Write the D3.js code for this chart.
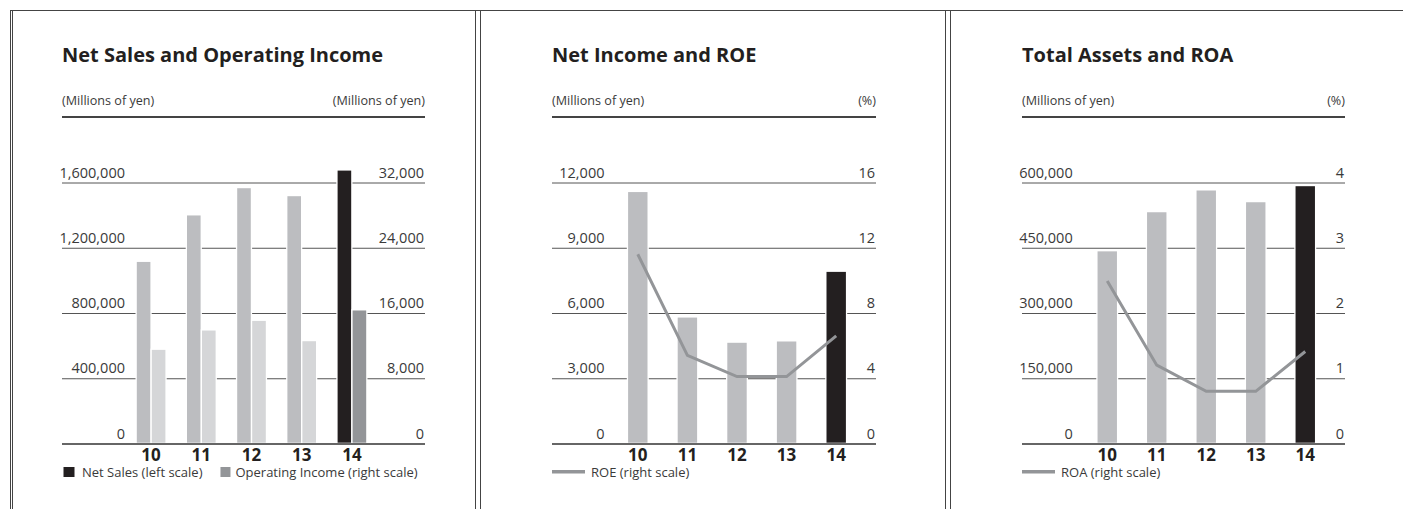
<!DOCTYPE html>
<html>
<head>
<meta charset="utf-8">
<script src="https://cdn.jsdelivr.net/npm/d3@7"></script>
<style>
  body { margin: 0; background: #fff; }
  svg { display: block; font-family: "Open Sans", "Noto Sans", sans-serif; }
</style>
</head>
<body>
<svg id="chart" width="1403" height="509"></svg>
<script>
// fiscal years
const years = ["10", "11", "12", "13", "14"];

// Net sales (left) and operating income (right), millions of yen
const netSales = [1113000, 1398000, 1565000, 1516000, 1673000];
const operatingIncome = [11480, 13850, 15030, 12540, 16310];

// Net income (left, millions of yen) and ROE (right, %)
const netIncome = [11560, 5790, 4630, 4690, 7890];
const roe = [11.6, 5.4, 4.1, 4.1, 6.6];

// Total assets (left, millions of yen) and ROA (right, %)
const totalAssets = [441700, 531600, 581600, 554600, 591500];
const roa = [2.49, 1.2, 0.8, 0.8, 1.41];

// tick values
const salesTicks = [0, 400000, 800000, 1200000, 1600000];
const opIncomeTicks = [0, 8000, 16000, 24000, 32000];
const netIncomeTicks = [0, 3000, 6000, 9000, 12000];
const roeTicks = [0, 4, 8, 12, 16];
const assetsTicks = [0, 150000, 300000, 450000, 600000];
const roaTicks = [0, 1, 2, 3, 4];

const svg = d3.select("#chart");
const fmt = d3.format(",");

// colours
const pastBar = "#bcbdc0";
const pastBar2 = "#d5d6d8";
const latestBar = "#231f20";
const latestBar2 = "#939598";
const lineColor = "#939598";
const textColor = "#3a3a3a";

const baseY = 443.5, topY = 182.5;

// frame lines
const frame = svg.append("g").attr("stroke", "#444").attr("stroke-width", 1);
frame.append("line").attr("x1", 10).attr("x2", 1403).attr("y1", 10.5).attr("y2", 10.5);
[10.5, 12.5, 475.5, 480.5, 945.5, 950.5].forEach(function (x) {
    frame.append("line").attr("x1", x).attr("x2", x).attr("y1", 10).attr("y2", 509);
});

// draws the common parts of one panel and returns its scales
function drawPanel(cfg) {
    const g = svg.append("g");

    g.append("text")
        .attr("x", cfg.left).attr("y", 62)
        .attr("font-size", 20).attr("font-weight", 700).attr("fill", "#231f20")
        .text(cfg.title);

    g.append("text")
        .attr("x", cfg.left).attr("y", 104.5)
        .attr("font-size", 12.6).attr("fill", textColor)
        .text(cfg.leftUnit);
    g.append("text")
        .attr("x", cfg.right).attr("y", 104.5).attr("text-anchor", "end")
        .attr("font-size", 12.6).attr("fill", textColor)
        .text(cfg.rightUnit);

    g.append("line")
        .attr("x1", cfg.left).attr("x2", cfg.right)
        .attr("y1", 117).attr("y2", 117)
        .attr("stroke", "#444").attr("stroke-width", 2);

    const x = d3.scaleBand().domain(years).range([cfg.bandStart, cfg.bandEnd]);
    const yL = d3.scaleLinear().domain([0, d3.max(cfg.leftTicks)]).range([baseY, topY]);
    const yR = d3.scaleLinear().domain([0, d3.max(cfg.rightTicks)]).range([baseY, topY]);

    // gridlines with left labels
    const axL = g.append("g")
        .attr("transform", "translate(" + cfg.left + ",0)")
        .call(d3.axisRight(yL).tickValues(cfg.leftTicks).tickSize(cfg.right - cfg.left).tickFormat(fmt));
    axL.select(".domain").remove();
    axL.selectAll(".tick line")
        .attr("stroke", function (d) { return d === 0 ? "#333" : "#555"; })
        .attr("stroke-width", function (d) { return d === 0 ? 1.6 : 1; });
    axL.selectAll(".tick text")
        .attr("x", cfg.leftLabelX - cfg.left).attr("dy", -5.5)
        .attr("text-anchor", "end")
        .attr("font-size", 14.5).attr("font-family", "Open Sans").attr("fill", textColor);

    // right labels
    const axR = g.append("g")
        .attr("transform", "translate(" + cfg.right + ",0)")
        .call(d3.axisLeft(yR).tickValues(cfg.rightTicks).tickSize(0).tickFormat(fmt));
    axR.select(".domain").remove();
    axR.selectAll(".tick text")
        .attr("x", -1).attr("dy", -5.5)
        .attr("text-anchor", "end")
        .attr("font-size", 14.5).attr("font-family", "Open Sans").attr("fill", textColor);

    return { g: g, x: x, yL: yL, yR: yR };
}

// bar with a thin white halo that breaks the gridlines
function bars(layer, values, xPos, width, y, colorFn) {
    layer.selectAll(null).data(values).enter().append("rect")
        .attr("x", function (d, i) { return xPos(i) - 1.3; })
        .attr("y", function (d) { return y(d) - 1.3; })
        .attr("width", width + 2.6)
        .attr("height", function (d) { return baseY - y(d) + 0.5; })
        .attr("fill", "#fff");
    layer.selectAll(null).data(values).enter().append("rect")
        .attr("x", function (d, i) { return xPos(i); })
        .attr("y", function (d) { return y(d); })
        .attr("width", width)
        .attr("height", function (d) { return baseY - 0.8 - y(d); })
        .attr("fill", function (d, i) { return colorFn(i); });
}

function yearLabels(p) {
    p.g.append("g").selectAll("text").data(years).enter().append("text")
        .attr("x", function (d) { return p.x(d) + p.x.bandwidth() / 2; })
        .attr("y", 460.5)
        .attr("text-anchor", "middle")
        .attr("font-size", 17).attr("font-weight", 700).attr("fill", "#231f20")
        .text(function (d) { return d; });
}

function lineLegend(p, left, label) {
    p.g.append("line")
        .attr("x1", left).attr("x2", left + 33)
        .attr("y1", 471.7).attr("y2", 471.7)
        .attr("stroke", lineColor).attr("stroke-width", 3.6);
    p.g.append("text")
        .attr("x", left + 39).attr("y", 476.5)
        .attr("font-size", 13).attr("fill", textColor)
        .text(label);
}

function lineSeries(p, values) {
    const line = d3.line()
        .x(function (d, i) { return p.x(years[i]) + p.x.bandwidth() / 2; })
        .y(function (d) { return p.yR(d); });
    p.g.append("path")
        .datum(values)
        .attr("d", line)
        .attr("fill", "none")
        .attr("stroke", lineColor)
        .attr("stroke-width", 3);
}

// ---- Panel 1: Net Sales and Operating Income
const p1 = drawPanel({
    left: 62, right: 425, bandStart: 126, bandEnd: 377, leftLabelX: 125,
    title: "Net Sales and Operating Income",
    leftUnit: "(Millions of yen)", rightUnit: "(Millions of yen)",
    leftTicks: salesTicks, rightTicks: opIncomeTicks
});
const barsP1 = p1.g.append("g");
const last = years.length - 1;
bars(barsP1, netSales, function (i) { return p1.x(years[i]) + p1.x.bandwidth() / 2 - 14.3; }, 13.6, p1.yL,
    function (i) { return i === last ? latestBar : pastBar; });
bars(barsP1, operatingIncome, function (i) { return p1.x(years[i]) + p1.x.bandwidth() / 2 + 0.7; }, 13.6, p1.yR,
    function (i) { return i === last ? latestBar2 : pastBar2; });
yearLabels(p1);

const legend1 = p1.g.append("g");
legend1.append("rect").attr("x", 63.5).attr("y", 467).attr("width", 11).attr("height", 10).attr("fill", latestBar);
const t1 = legend1.append("text").attr("x", 82).attr("y", 476.5)
    .attr("font-size", 13).attr("fill", textColor).text("Net Sales (left scale)");
const x2 = 82 + t1.node().getComputedTextLength() + 18;
legend1.append("rect").attr("x", x2).attr("y", 467).attr("width", 10).attr("height", 10).attr("fill", latestBar2);
legend1.append("text").attr("x", x2 + 15).attr("y", 476.5)
    .attr("font-size", 13).attr("fill", textColor).text("Operating Income (right scale)");

// ---- Panel 2: Net Income and ROE
const p2 = drawPanel({
    left: 552, right: 876, bandStart: 613, bandEnd: 861, leftLabelX: 604.5,
    title: "Net Income and ROE",
    leftUnit: "(Millions of yen)", rightUnit: "(%)",
    leftTicks: netIncomeTicks, rightTicks: roeTicks
});
bars(p2.g.append("g"), netIncome, function (i) { return p2.x(years[i]) + p2.x.bandwidth() / 2 - 9.7; }, 19.4, p2.yL,
    function (i) { return i === last ? latestBar : pastBar; });
lineSeries(p2, roe);
yearLabels(p2);
lineLegend(p2, 552, "ROE (right scale)");

// ---- Panel 3: Total Assets and ROA
const p3 = drawPanel({
    left: 1022, right: 1345, bandStart: 1082.5, bandEnd: 1330, leftLabelX: 1072.7,
    title: "Total Assets and ROA",
    leftUnit: "(Millions of yen)", rightUnit: "(%)",
    leftTicks: assetsTicks, rightTicks: roaTicks
});
bars(p3.g.append("g"), totalAssets, function (i) { return p3.x(years[i]) + p3.x.bandwidth() / 2 - 9.7; }, 19.4, p3.yL,
    function (i) { return i === last ? latestBar : pastBar; });
lineSeries(p3, roa);
yearLabels(p3);
lineLegend(p3, 1022, "ROA (right scale)");
</script>
</body>
</html>
